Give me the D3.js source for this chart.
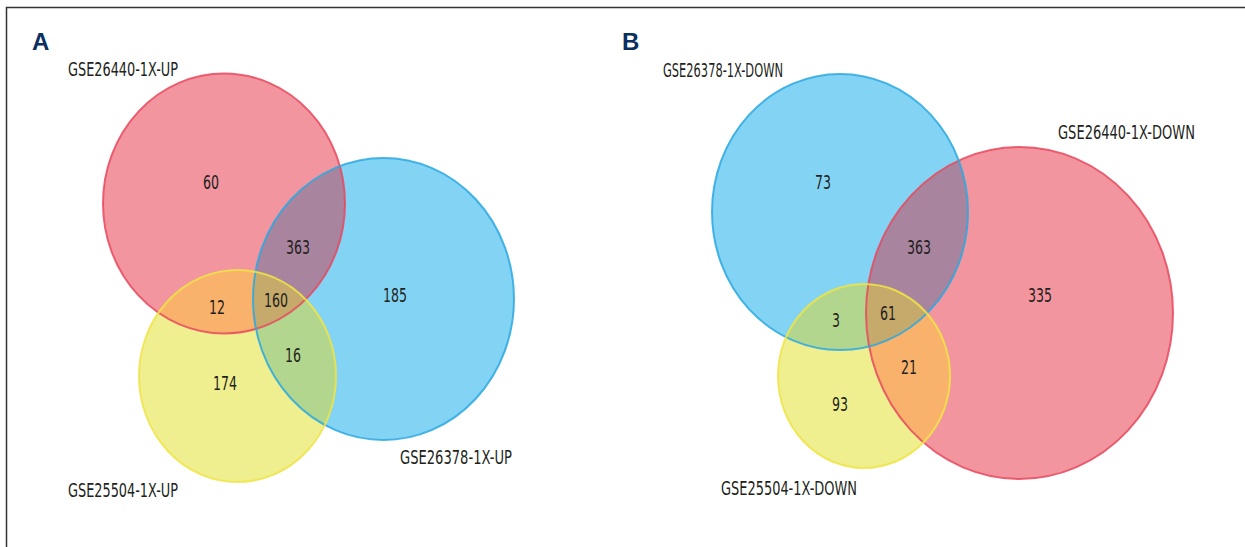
<!DOCTYPE html>
<html>
<head>
<meta charset="utf-8">
<script src="https://cdn.jsdelivr.net/npm/d3@7"></script>
<style>
html,body{margin:0;padding:0;background:#fff;}
svg{display:block;}
</style>
</head>
<body>
<svg id="venn" width="1245" height="547"></svg>
<script>
// set names per panel (order: red, blue, yellow)
var panelTitles=['A','B']
var setNamesA=['GSE26440-1X-UP','GSE26378-1X-UP','GSE25504-1X-UP']
var setNamesB=['GSE26440-1X-DOWN','GSE26378-1X-DOWN','GSE25504-1X-DOWN']
// region counts: red only, blue only, yellow only, red&blue, red&yellow, blue&yellow, all three
var regionKeys=['r','b','y','rb','ry','by','rby']
var countsA=[60,185,174,363,12,16,160]
var countsB=[335,73,93,363,21,3,61]

// colours
var fill={r:'#f2959f',b:'#83d3f4',y:'#f0ef8f',rb:'#a8849f',ry:'#f9b26b',by:'#b3d68e',rby:'#c6aa6c'}
var stroke={r:'#e8495e',b:'#2aa8e0',y:'#efe445'}

// layout (pixels) – ellipses and label spots
var layout={
    A:{
        ell:{r:[224,203.5,121,130],b:[383.5,299,130.5,141],y:[237.5,376,98.5,106]},
        title:[32,50],
        names:[[68,76,110],[400,464,112],[68,497,110]],
        spots:{r:[211,182],b:[395,295],y:[225,383],rb:[298,247],ry:[217,307],by:[293,355],rby:[276,300]}
    },
    B:{
        ell:{r:[1019.5,313,153.5,166],b:[840,212,128,138],y:[864,376,86,92]},
        title:[622,50],
        names:[[1058,139,137],[663,77,120],[721,495,136]],
        spots:{r:[1040,295],b:[823,182],y:[840,404],rb:[919,247],ry:[909,367],by:[836,320],rby:[888,313]}
    }
}

var font='"Liberation Sans Narrow","DejaVu Sans Condensed","Roboto",sans-serif'
var svg=d3.select('#venn')
var defs=svg.append('defs')

// frame
svg.append('path')
    .attr('d','M6.5,547 L6.5,7.5 L1245,7.5')
    .attr('fill','none')
    .attr('stroke','#333')
    .attr('stroke-width',1.5)

function drawPanel(id,names,counts)
{
    var L=layout[id]
    var g=svg.append('g').attr('id','panel-'+id)
    var keys=['r','b','y']
    // clip paths, one per set
    keys.forEach(k=>{
        var e=L.ell[k]
        defs.append('clipPath').attr('id','clip-'+id+'-'+k)
            .append('ellipse')
            .attr('cx',e[0]).attr('cy',e[1]).attr('rx',e[2]).attr('ry',e[3])
    })
    function ell(sel,k)
    {
        var e=L.ell[k]
        return sel.append('ellipse')
            .attr('cx',e[0]).attr('cy',e[1]).attr('rx',e[2]).attr('ry',e[3])
    }
    // single sets
    keys.forEach(k=>{
        ell(g,k).attr('fill',fill[k])
    })
    // pair overlaps
    var pairs=[['rb','r','b'],['ry','r','y'],['by','b','y']]
    pairs.forEach(p=>{
        ell(g.append('g').attr('clip-path','url(#clip-'+id+'-'+p[1]+')'),p[2])
            .attr('fill',fill[p[0]])
    })
    // triple overlap
    ell(g.append('g').attr('clip-path','url(#clip-'+id+'-r)')
          .append('g').attr('clip-path','url(#clip-'+id+'-b)'),'y')
        .attr('fill',fill.rby)
    // outlines
    keys.forEach(k=>{
        ell(g,k).attr('fill','none')
            .attr('stroke',stroke[k])
            .attr('stroke-width',2)
            .attr('stroke-opacity',0.85)
    })
    // counts
    g.append('g').selectAll('text')
        .data(regionKeys.map((k,i)=>({k:k,v:counts[i]})))
        .join('text')
        .attr('x',d=>L.spots[d.k][0]-String(d.v).length*4)
        .attr('y',d=>L.spots[d.k][1]+7)
        .attr('textLength',d=>String(d.v).length*8)
        .attr('lengthAdjust','spacingAndGlyphs')
        .attr('font-family',font)
        .attr('font-size',20)
        .attr('fill','#231f20')
        .text(d=>d.v)
    // set names
    g.append('g').selectAll('text')
        .data(names.map((n,i)=>({n:n,p:L.names[i]})))
        .join('text')
        .attr('x',d=>d.p[0])
        .attr('y',d=>d.p[1])
        .attr('textLength',d=>d.p[2])
        .attr('lengthAdjust','spacingAndGlyphs')
        .attr('font-family',font)
        .attr('font-size',20)
        .attr('fill','#231f20')
        .text(d=>d.n)
    // panel title
    g.append('text')
        .attr('x',L.title[0])
        .attr('y',L.title[1])
        .attr('font-family','"Liberation Sans","Arial",sans-serif')
        .attr('font-weight','bold')
        .attr('font-size',24)
        .attr('fill','#0b2f5e')
        .text(id)
}

drawPanel(panelTitles[0],setNamesA,countsA)
drawPanel(panelTitles[1],setNamesB,countsB)
</script>
</body>
</html>
